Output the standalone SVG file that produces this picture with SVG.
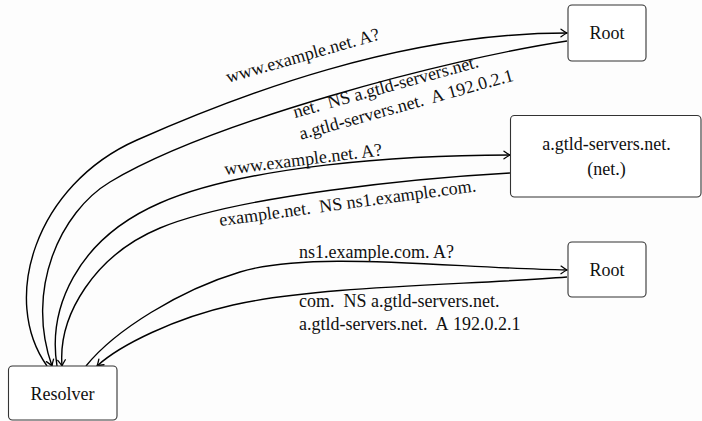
<svg xmlns="http://www.w3.org/2000/svg" width="702" height="421" viewBox="0 0 702 421">
<style>
.box{fill:#fff;stroke:#333;stroke-width:1.1}
.t{font-family:"Liberation Serif","Times New Roman",serif;font-size:18px;fill:#111}
.c{text-anchor:middle}
.e{fill:none;stroke:#000;stroke-width:1.4;marker-end:url(#arr)}
</style>
<defs>
<marker id="arr" markerUnits="userSpaceOnUse" markerWidth="14" markerHeight="14" viewBox="-8 -7 10 14" refX="0" refY="0" orient="auto" overflow="visible">
<path d="M-6,-3.8 Q-2,-0.9 0,0 Q-2,0.9 -6,3.8" fill="none" stroke="#000" stroke-width="1.3" stroke-linecap="round"/>
</marker>
</defs>
<rect width="702" height="421" fill="#fdfdfd"/>
<g id="connectors">
<path class="e" d="M47,366 C0,300 35,185 137,140 S400,33 567,33"/>
<path class="e" d="M567,41 C447,59 210,122 110,182 C60,212 25,290 52,366"/>
<path class="e" d="M57,366 C48,310 75,240 160,203 C245,166 400,155 510,155"/>
<path class="e" d="M510,173 C420,178 238,195.6 160,228 C95,255 58,315 62,366"/>
<path class="e" d="M86,366 C115,330 180,290 240,272 C312,250 450,268 567,270"/>
<path class="e" d="M567,277 C470,285 320,285.5 233,305 C175,318 120,345 97,366"/>
</g>
<g id="labels">
<text class="t" transform="translate(228,83) rotate(-16)">www.example.net. A?</text>
<g transform="translate(295,118) rotate(-15.5)">
<text class="t" x="0" y="0">net.&#160; NS a.gtld-servers.net.</text>
<text class="t" x="0" y="22.5">a.gtld-servers.net.&#160; A&#160;192.0.2.1</text>
</g>
<text class="t" transform="translate(225,175) rotate(-7.1)">www.example.net. A?</text>
<text class="t" transform="translate(220,226) rotate(-7.7)">example.net.&#160; NS ns1.example.com.</text>
<text class="t" x="299" y="258">ns1.example.com. A?</text>
<text class="t" x="299" y="307">com.&#160; NS a.gtld-servers.net.</text>
<text class="t" x="299" y="330">a.gtld-servers.net.&#160; A&#160;192.0.2.1</text>
</g>
<g id="root1">
<rect class="box" x="568" y="5" width="78" height="56" rx="4"/>
<text class="t c" x="607" y="39">Root</text>
</g>
<g id="gtld">
<rect class="box" x="510.5" y="115.5" width="190.5" height="81.5" rx="4"/>
<text class="t c" x="606.5" y="149.5">a.gtld-servers.net.</text>
<text class="t c" x="606.5" y="175">(net.)</text>
</g>
<g id="root2">
<rect class="box" x="568" y="242" width="78" height="55" rx="4"/>
<text class="t c" x="607" y="275.5">Root</text>
</g>
<g id="resolver">
<rect class="box" x="8.5" y="366" width="108.5" height="54" rx="4"/>
<text class="t c" x="62.5" y="400">Resolver</text>
</g>
</svg>
